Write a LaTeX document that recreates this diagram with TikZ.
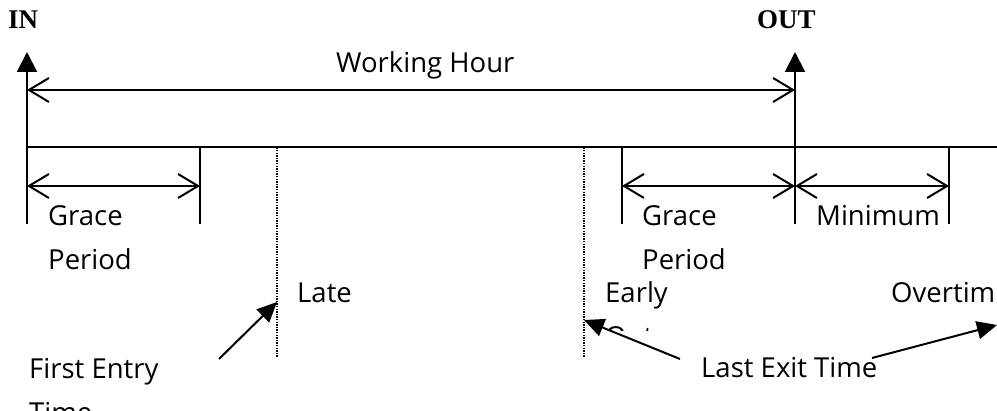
\documentclass[tikz,border=0pt]{standalone}
\usepackage{fontspec}
\setmainfont{Open Sans}
\newfontfamily\headfont{Liberation Serif}
\usetikzlibrary{arrows.meta, positioning}

\tikzset{
  axis/.style={line width=2pt},
  span/.style={line width=2pt,
    {Straight Barb[length=20pt,width=24pt,line width=2pt]}-{Straight Barb[length=20pt,width=24pt,line width=2pt]}},
  dotline/.style={line width=1.3pt, dash pattern=on 1.3pt off 1.3pt},
  pointer/.style={line width=2pt, -{Triangle[length=20pt,width=18pt]}},
  lbl/.style={anchor=base west, inner sep=0pt, font=\fontsize{27.5}{28}\selectfont},
  head/.style={anchor=base west, inner sep=0pt, font=\headfont\bfseries\fontsize{27}{27}\selectfont},
}

\begin{document}
\begin{tikzpicture}[x=1pt, y=-1pt]
    \clip (0,0) rectangle (997,411);

    % IN / OUT
    \node[head] (in) at (8,29) {IN};
    \node[head] (out) at (757,29) {OUT};
    \coordinate (inTop) at (27,52);
    \coordinate (inBot) at (27,224);
    \coordinate (outTop) at (795,52);
    \coordinate (outBot) at (795,224);
    \draw[axis, -{Triangle[length=20pt,width=20pt]}] (inBot) -- (inTop);
    \draw[axis, -{Triangle[length=20pt,width=20pt]}] (outBot) -- (outTop);

    % working hour
    \coordinate (whL) at (27,90);
    \coordinate (whR) at (795,90);
    \draw[span] (whL) -- (whR);
    \node[lbl] (wh) at (336,73) {Working Hour};

    % time line
    \coordinate (lineL) at (27,147.5);
    \coordinate (lineR) at (997,147.5);
    \draw[axis] (lineL) -- (lineR);

    % ticks
    \coordinate (gInT) at (200,147.5);
    \coordinate (gInB) at (200,224);
    \coordinate (gOutT) at (622,147.5);
    \coordinate (gOutB) at (622,224);
    \coordinate (minT) at (949,147.5);
    \coordinate (minB) at (949,224);
    \draw[axis] (gInT) -- (gInB);
    \draw[axis] (gOutT) -- (gOutB);
    \draw[axis] (minT) -- (minB);

    % spans
    \coordinate (sIn) at (27,186);
    \coordinate (sGrace) at (200,186);
    \coordinate (sGraceOut) at (622,186);
    \coordinate (sOut) at (795,186);
    \coordinate (sMin) at (949,186);
    \draw[span] (sIn) -- (sGrace);
    \draw[span] (sGraceOut) -- (sOut);
    \draw[span] (sOut) -- (sMin);

    \node[lbl] (grace1) at (48,226) {Grace};
    \node[lbl] (period1) at (48,270) {Period};
    \node[lbl] (grace2) at (642,226) {Grace};
    \node[lbl] (period2) at (642,270) {Period};
    \node[lbl] (minimum) at (816,226) {Minimum};

    % late / early
    \coordinate (lateT) at (277,147.5);
    \coordinate (lateB) at (277,358);
    \coordinate (earlyT) at (584,147.5);
    \coordinate (earlyB) at (584,358);
    \draw[dotline] (lateT) -- (lateB);
    \draw[dotline] (earlyT) -- (earlyB);

    \node[lbl] (late) at (297,303) {Late};
    \node[lbl] (early) at (605,303) {Early};
    \begin{scope}
        \clip (600,280) rectangle (700,331);
        \node[lbl] (earlyOut) at (605,347) {Out};
    \end{scope}
    \node[lbl] (overtime) at (891,303) {Overtim};

    % entry / exit
    \node[lbl] (entry) at (29,379) {First Entry};
    \node[lbl] (entryTime) at (29,423) {Time};
    \node[lbl] (exit) at (701,378) {Last Exit Time};

    \coordinate (entryTail) at (219,359);
    \coordinate (lateHit) at (277,302);
    \coordinate (exitTailL) at (680,359);
    \coordinate (earlyHit) at (584,320);
    \coordinate (exitTailR) at (872,358);
    \coordinate (overHit) at (997,325);
    \draw[pointer] (entryTail) -- (lateHit);
    \draw[pointer] (exitTailL) -- (earlyHit);
    \draw[pointer] (exitTailR) -- (overHit);
\end{tikzpicture}
\end{document}
